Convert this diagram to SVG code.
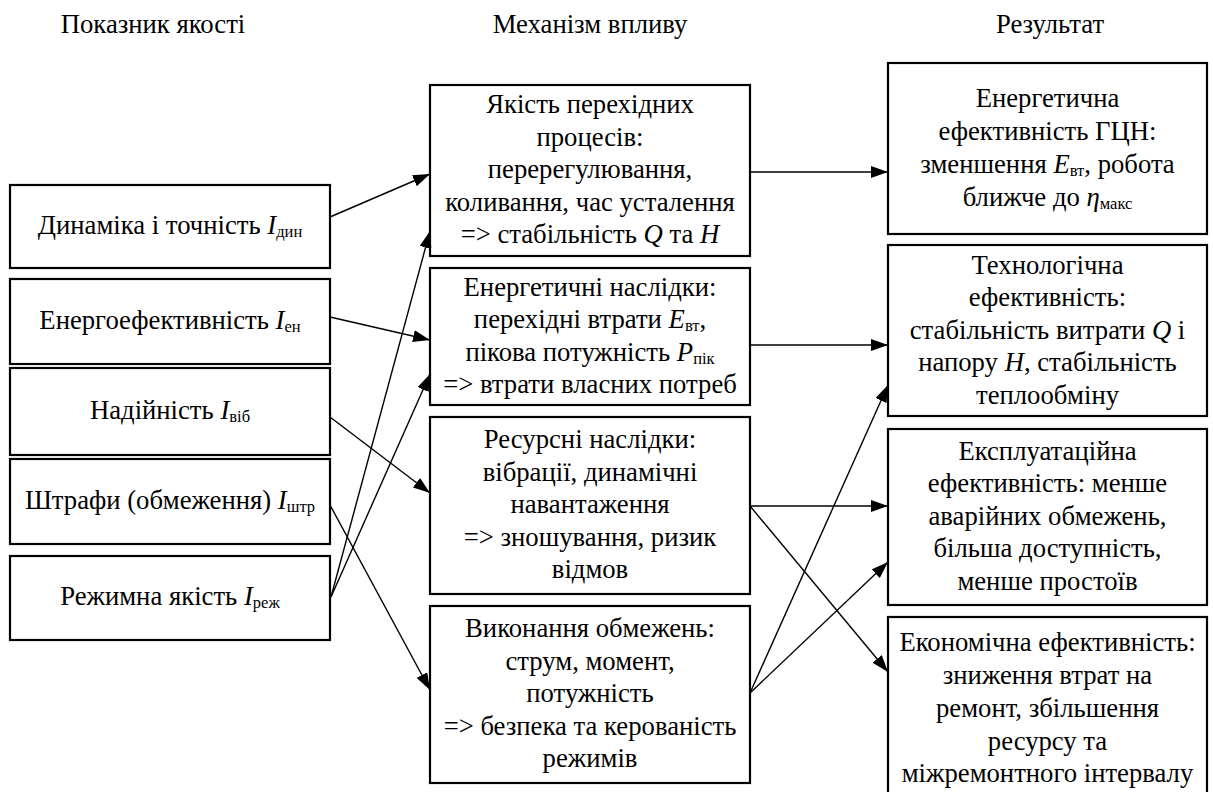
<svg xmlns="http://www.w3.org/2000/svg" width="1213" height="792" viewBox="0 0 1213 792">
<style>
text{font-family:'Times New Roman',Tinos,'Liberation Serif','Noto Serif','DejaVu Serif',FreeSerif,serif;font-size:26.7px;fill:#000;text-anchor:middle}
.box{fill:#fff;stroke:#000;stroke-width:2.2}
.con{stroke:#000;stroke-width:1.4;fill:none;marker-end:url(#ah)}
.it{font-style:italic}
.sub{font-size:16.5px}
</style>
<defs>
<marker id="ah" markerUnits="userSpaceOnUse" markerWidth="18" markerHeight="12" refX="17" refY="6" orient="auto">
<path d="M0,0 L17,6 L0,12 z" fill="#000"/>
</marker>
</defs>
<rect width="1213" height="792" fill="#fff"/>
<g id="headers">
<text x="153" y="33">Показник якості</text>
<text x="590" y="33">Механізм впливу</text>
<text x="1050" y="33">Результат</text>
</g>
<g id="L1"><rect class="box" x="10" y="185" width="320" height="83"/>
<text x="170" y="234">Динаміка і точність <tspan class="it">I</tspan><tspan class="sub" dy="3">дин</tspan></text></g>
<g id="L2"><rect class="box" x="10" y="279" width="320" height="85"/>
<text x="170" y="329">Енергоефективність <tspan class="it">I</tspan><tspan class="sub" dy="3">ен</tspan></text></g>
<g id="L3"><rect class="box" x="10" y="368" width="320" height="87"/>
<text x="170" y="419">Надійність <tspan class="it">I</tspan><tspan class="sub" dy="3">віб</tspan></text></g>
<g id="L4"><rect class="box" x="10" y="459" width="320" height="85"/>
<text x="170" y="509">Штрафи (обмеження) <tspan class="it">I</tspan><tspan class="sub" dy="3">штр</tspan></text></g>
<g id="L5"><rect class="box" x="10" y="556" width="320" height="84"/>
<text x="170" y="605">Режимна якість <tspan class="it">I</tspan><tspan class="sub" dy="3">реж</tspan></text></g>

<g id="M1"><rect class="box" x="430" y="85" width="320" height="171"/>
<text x="590" y="113">Якість перехідних</text>
<text x="590" y="145.5">процесів:</text>
<text x="590" y="178">перерегулювання,</text>
<text x="590" y="210.5">коливання, час усталення</text>
<text x="590" y="243">=&gt; стабільність <tspan class="it">Q</tspan> та <tspan class="it">H</tspan></text></g>
<g id="M2"><rect class="box" x="430" y="268" width="320" height="137"/>
<text x="590" y="295.5">Енергетичні наслідки:</text>
<text x="590" y="328">перехідні втрати <tspan class="it">E</tspan><tspan class="sub" dy="3">вт</tspan><tspan dy="-3">,</tspan></text>
<text x="590" y="360.5">пікова потужність <tspan class="it">P</tspan><tspan class="sub" dy="3">пік</tspan></text>
<text x="590" y="393">=&gt; втрати власних потреб</text></g>
<g id="M3"><rect class="box" x="430" y="417" width="320" height="177"/>
<text x="590" y="448">Ресурсні наслідки:</text>
<text x="590" y="480.5">вібрації, динамічні</text>
<text x="590" y="513">навантаження</text>
<text x="590" y="545.5">=&gt; зношування, ризик</text>
<text x="590" y="578">відмов</text></g>
<g id="M4"><rect class="box" x="430" y="606" width="320" height="177"/>
<text x="590" y="637">Виконання обмежень:</text>
<text x="590" y="669.5">струм, момент,</text>
<text x="590" y="702">потужність</text>
<text x="590" y="734.5">=&gt; безпека та керованість</text>
<text x="590" y="767">режимів</text></g>

<g id="R1"><rect class="box" x="888" y="63" width="319" height="171"/>
<text x="1047.5" y="106.5">Енергетична</text>
<text x="1047.5" y="139.5">ефективність ГЦН:</text>
<text x="1047.5" y="172.5">зменшення <tspan class="it">E</tspan><tspan class="sub" dy="3">вт</tspan><tspan dy="-3">, робота</tspan></text>
<text x="1047.5" y="205.5">ближче до <tspan class="it">η</tspan><tspan class="sub" dy="3">макс</tspan></text></g>
<g id="R2"><rect class="box" x="888" y="245" width="319" height="171"/>
<text x="1047.5" y="273.5">Технологічна</text>
<text x="1047.5" y="306">ефективність:</text>
<text x="1047.5" y="338.5">стабільність витрати <tspan class="it">Q</tspan> і</text>
<text x="1047.5" y="371">напору <tspan class="it">H</tspan>, стабільність</text>
<text x="1047.5" y="403.5">теплообміну</text></g>
<g id="R3"><rect class="box" x="888" y="429" width="319" height="176"/>
<text x="1047.5" y="459.5">Експлуатаційна</text>
<text x="1047.5" y="492">ефективність: менше</text>
<text x="1047.5" y="524.5">аварійних обмежень,</text>
<text x="1047.5" y="557">більша доступність,</text>
<text x="1047.5" y="589.5">менше простоїв</text></g>
<g id="R4"><rect class="box" x="888" y="617" width="319" height="185"/>
<text x="1047.5" y="650.5">Економічна ефективність:</text>
<text x="1047.5" y="683.5">зниження втрат на</text>
<text x="1047.5" y="716.5">ремонт, збільшення</text>
<text x="1047.5" y="749.5">ресурсу та</text>
<text x="1047.5" y="781.5">міжремонтного інтервалу</text></g>

<g id="connectors">
<line class="con" x1="330" y1="217" x2="430" y2="174"/>
<line class="con" x1="330" y1="317" x2="430" y2="340"/>
<line class="con" x1="330" y1="417" x2="430" y2="493"/>
<line class="con" x1="330" y1="505" x2="430" y2="690"/>
<line class="con" x1="331" y1="597" x2="430" y2="231"/>
<line class="con" x1="331" y1="597" x2="430" y2="374"/>
<line class="con" x1="750" y1="172" x2="888" y2="172"/>
<line class="con" x1="750" y1="345" x2="888" y2="345"/>
<line class="con" x1="750" y1="506" x2="888" y2="506"/>
<line class="con" x1="750" y1="506" x2="888" y2="672"/>
<line class="con" x1="750" y1="693" x2="888" y2="385"/>
<line class="con" x1="750" y1="693" x2="888" y2="562"/>
</g>
</svg>
